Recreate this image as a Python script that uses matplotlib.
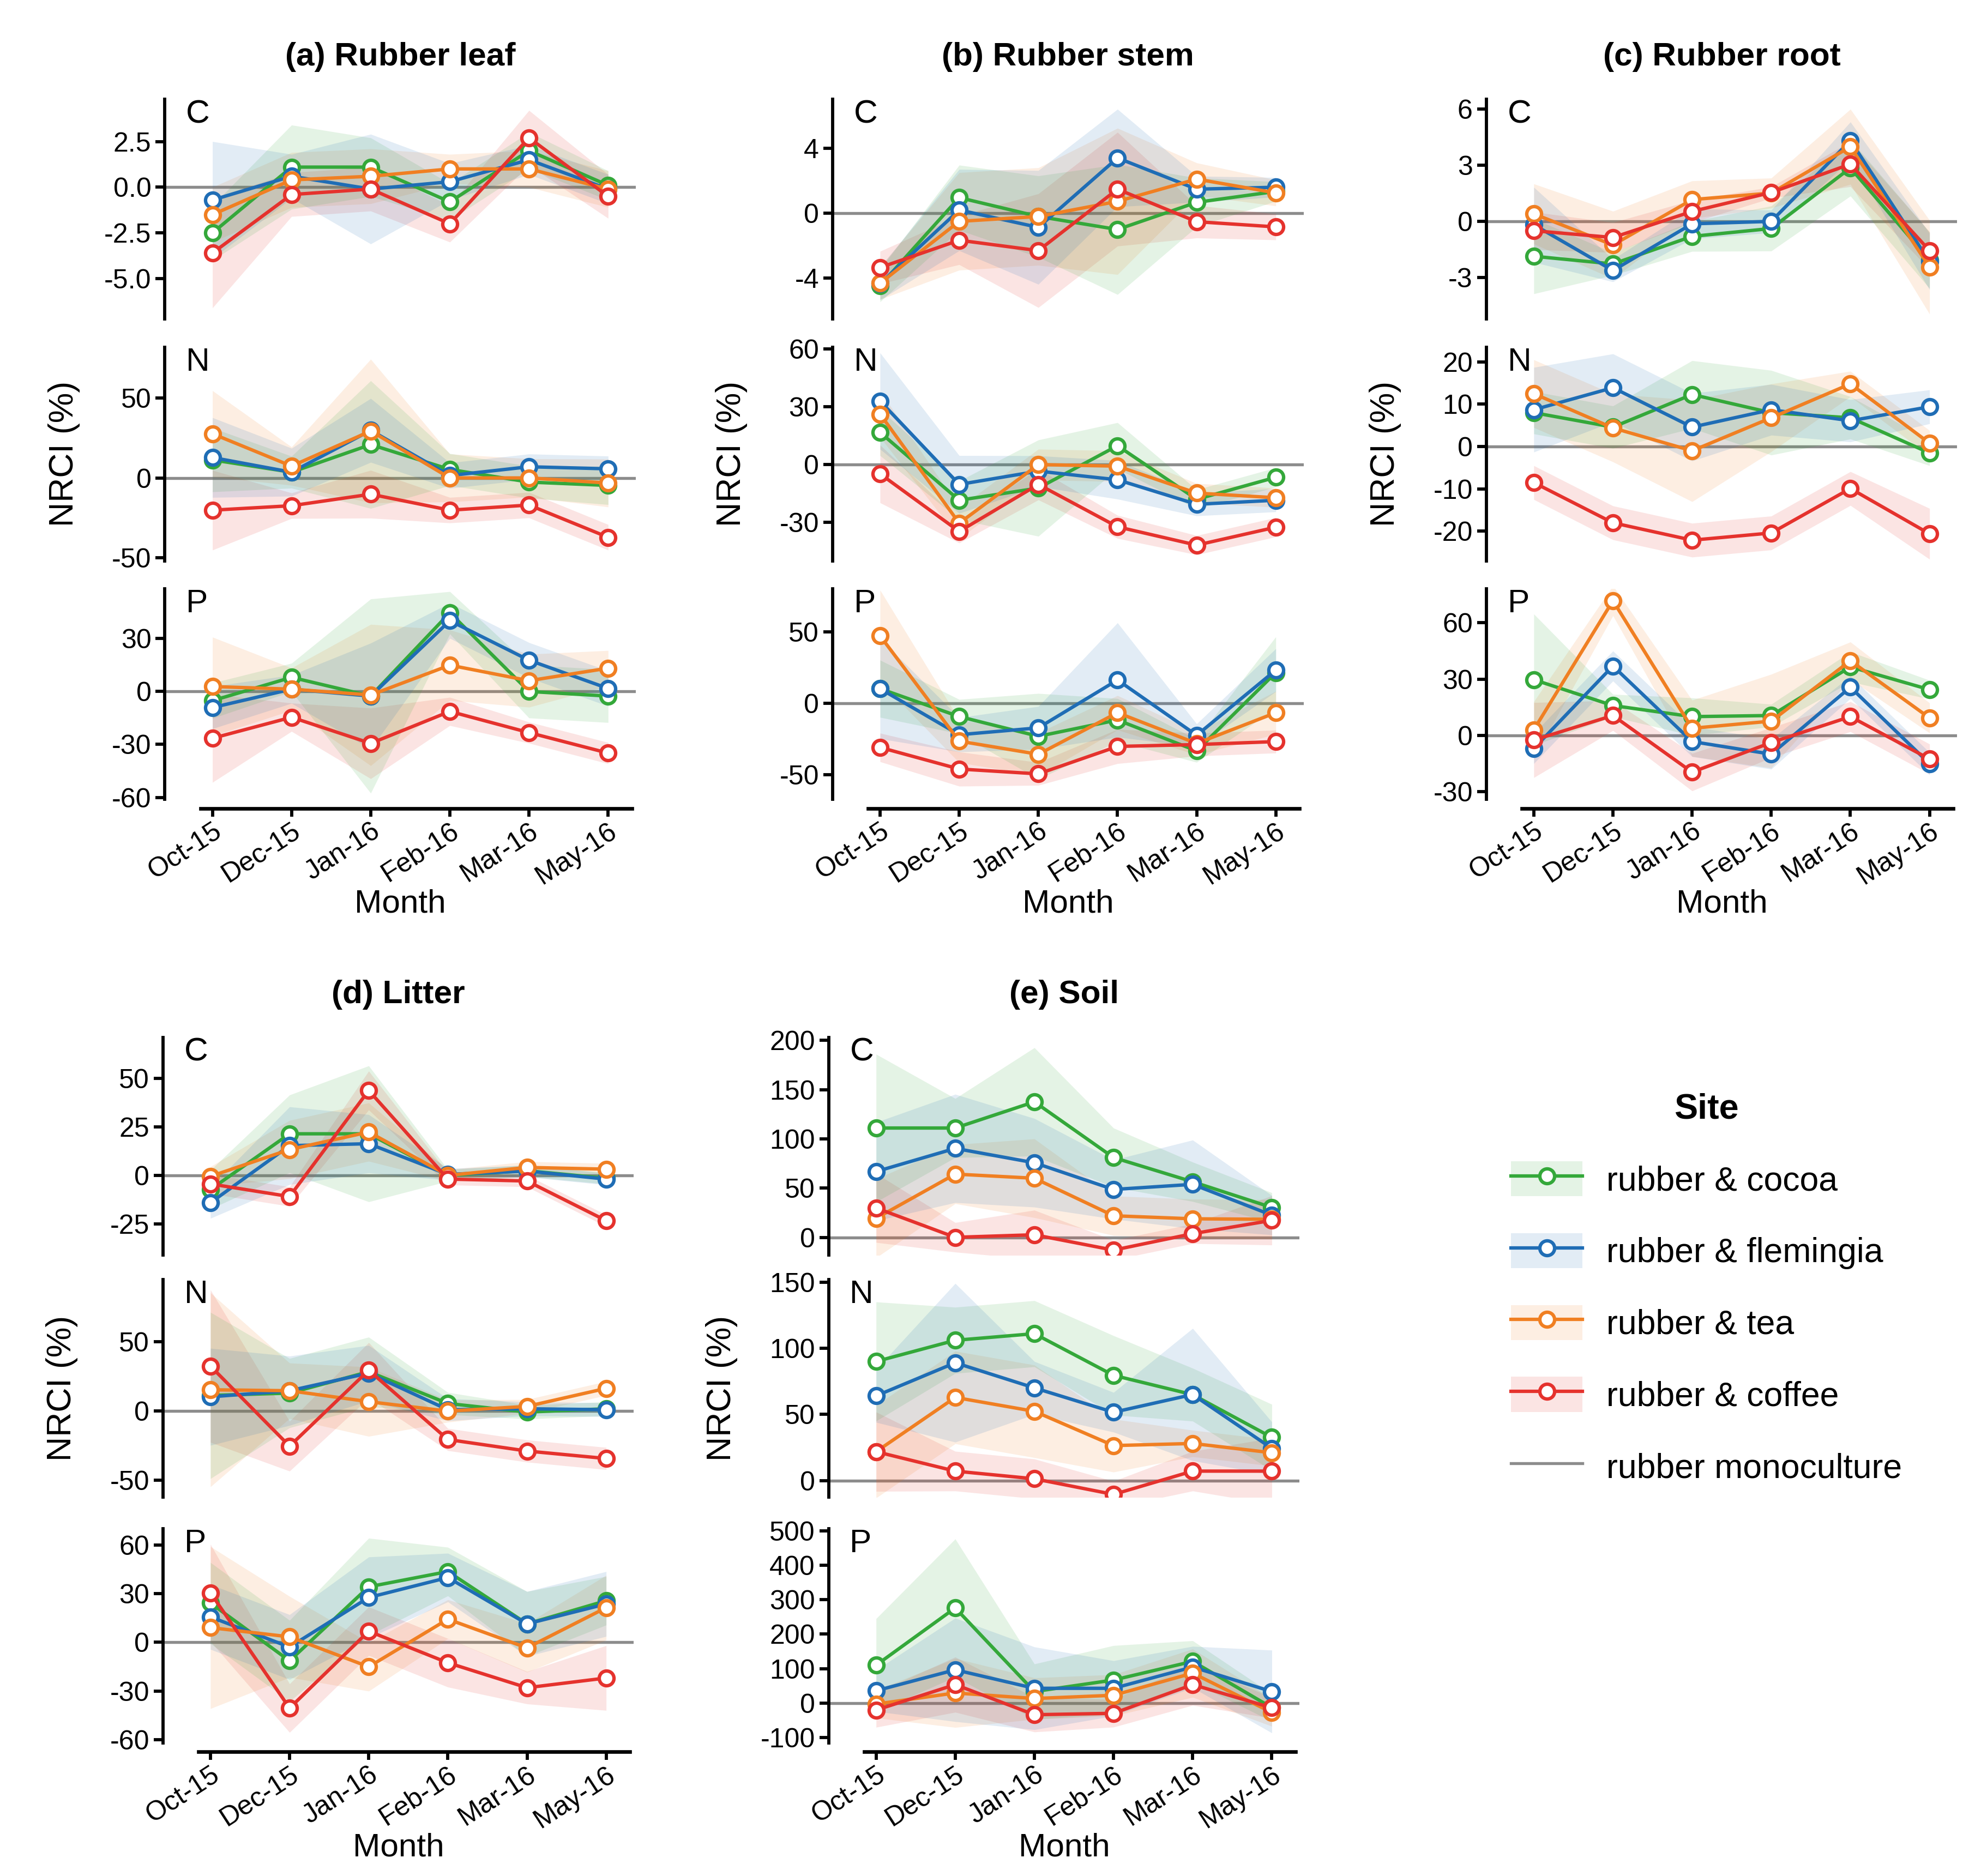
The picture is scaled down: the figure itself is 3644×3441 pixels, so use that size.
import numpy as np
import matplotlib
import matplotlib.pyplot as plt
from matplotlib.patches import Patch
from matplotlib.lines import Line2D
from matplotlib.ticker import FormatStrFormatter

plt.rcParams['font.family'] = ['Liberation Sans', 'DejaVu Sans']
plt.rcParams['axes.unicode_minus'] = False

#%% Data (rows: cocoa, flemingia, tea, coffee)

months = ['Oct-15', 'Dec-15', 'Jan-16', 'Feb-16', 'Mar-16', 'May-16']
sites = ['rubber & cocoa', 'rubber & flemingia', 'rubber & tea', 'rubber & coffee']
colors = ['#34a83a', '#1f6db5', '#f07f22', '#e5322d']

leaf_C = [[-2.5, 1.1, 1.1, -0.8, 2.0, 0.1],
          [-0.7, 0.6, -0.1, 0.3, 1.5, -0.1],
          [-1.5, 0.4, 0.6, 1.0, 1.0, -0.1],
          [-3.6, -0.4, -0.1, -2.0, 2.7, -0.5]]
leaf_C_err = [[1.5, 2.3, 1.6, 1.0, 1.0, 0.8],
              [3.2, 1.2, 3.0, 1.0, 0.8, 0.8],
              [1.5, 1.5, 1.5, 0.8, 1.0, 1.0],
              [3.0, 1.2, 1.2, 1.0, 1.5, 1.2]]
leaf_N = [[11.3, 3.6, 20.9, 5.3, -2.6, -4.7],
          [12.8, 3.6, 29.8, 1.5, 7.0, 5.7],
          [27.7, 7.4, 29.4, 0.0, 0.0, -3.2],
          [-20.2, -17.4, -10.2, -20.2, -17.0, -37.2]]
leaf_N_err = [[20, 10, 40, 10, 10, 12],
              [25, 15, 20, 8, 8, 8],
              [27, 12, 45, 15, 12, 15],
              [25, 8, 15, 8, 8, 8]]
leaf_P = [[-5.2, 8.0, -2.6, 44.6, 0.0, -2.6],
          [-9.1, 1.3, -2.6, 40.1, 17.7, 1.7],
          [2.8, 1.3, -2.0, 14.9, 6.1, 13.2],
          [-26.5, -14.6, -29.4, -11.3, -23.3, -34.9]]
leaf_P_err = [[10, 8, 55, 12, 15, 15],
              [12, 8, 30, 10, 10, 10],
              [28, 12, 40, 20, 15, 10],
              [25, 8, 20, 8, 6, 6]]

stem_C = [[-4.45, 0.96, -0.2, -1.0, 0.67, 1.34],
          [-4.33, 0.2, -0.87, 3.4, 1.48, 1.6],
          [-4.3, -0.5, -0.2, 0.73, 2.1, 1.25],
          [-3.34, -1.66, -2.3, 1.48, -0.52, -0.84]]
stem_C_err = [[1.0, 2.0, 2.5, 4.0, 1.5, 0.6],
              [1.0, 2.5, 3.5, 3.0, 0.8, 0.6],
              [1.0, 3.0, 3.0, 4.5, 1.0, 0.8],
              [1.0, 1.5, 3.5, 3.5, 1.0, 0.8]]
stem_N = [[16.7, -18.5, -12.2, 9.8, -18.0, -6.6],
          [33.0, -10.3, -3.4, -7.9, -20.6, -18.5],
          [26.2, -30.4, 0.0, -0.8, -14.8, -17.2],
          [-4.8, -34.7, -10.3, -32.3, -41.8, -32.5]]
stem_N_err = [[12, 10, 25, 12, 5, 5],
              [25, 15, 8, 10, 6, 6],
              [12, 8, 8, 8, 5, 5],
              [15, 6, 8, 6, 5, 5]]
stem_P = [[10.3, -9.2, -23.0, -11.6, -33.2, 21.6],
          [10.3, -21.9, -17.1, 16.4, -22.3, 23.3],
          [47.3, -26.4, -35.6, -6.5, -28.0, -6.5],
          [-30.8, -45.9, -49.3, -30.1, -28.8, -26.7]]
stem_P_err = [[20, 12, 30, 15, 8, 25],
              [35, 12, 15, 40, 8, 15],
              [32, 15, 15, 12, 8, 15],
              [10, 12, 8, 12, 8, 8]]

root_C = [[-1.86, -2.27, -0.8, -0.38, 2.85, -2.07],
          [-0.18, -2.62, -0.13, 0.0, 4.3, -2.14],
          [0.4, -1.26, 1.16, 1.51, 3.98, -2.44],
          [-0.5, -0.86, 0.53, 1.54, 3.05, -1.56]]
root_C_err = [[2.0, 0.6, 0.8, 1.2, 1.5, 1.5],
              [2.0, 0.6, 0.8, 0.6, 1.0, 1.5],
              [1.6, 1.8, 1.0, 0.8, 2.0, 2.5],
              [1.0, 0.8, 0.6, 0.3, 1.2, 1.0]]
root_N = [[8.0, 4.6, 12.3, 8.0, 6.8, -1.5],
          [8.7, 13.9, 4.6, 8.7, 6.1, 9.4],
          [12.5, 4.4, -1.0, 6.8, 14.8, 0.8],
          [-8.5, -18.0, -22.1, -20.4, -9.9, -20.6]]
root_N_err = [[5, 5, 8, 10, 5, 3],
              [10, 8, 8, 6, 5, 4],
              [8, 8, 12, 8, 3, 3],
              [4, 4, 4, 4, 4, 6]]
root_P = [[29.7, 15.9, 10.0, 10.6, 36.5, 24.4],
          [-7.0, 37.0, -3.3, -10.0, 25.7, -15.1],
          [3.0, 71.8, 3.8, 7.6, 39.8, 9.3],
          [-2.5, 10.6, -19.6, -3.8, 10.0, -12.6]]
root_P_err = [[35, 6, 10, 6, 8, 5],
              [8, 8, 8, 8, 6, 6],
              [15, 8, 15, 25, 10, 8],
              [20, 8, 10, 8, 8, 8]]

litter_C = [[-7.3, 21.4, 21.4, 0.0, 2.4, -1.5],
            [-14.1, 15.3, 16.3, 0.5, 2.2, -1.9],
            [-0.5, 13.3, 22.3, 0.0, 4.1, 3.2],
            [-4.4, -10.9, 43.7, -1.9, -2.9, -23.3]]
litter_C_err = [[10, 20, 35, 3, 3, 3],
                [8, 20, 15, 3, 3, 3],
                [5, 15, 15, 3, 3, 3],
                [5, 5, 10, 3, 3, 3]]
litter_N = [[11.3, 13.0, 28.4, 5.5, -0.7, 1.7],
            [10.3, 14.7, 27.4, 1.0, 1.7, 1.0],
            [15.4, 14.7, 6.8, 0.0, 3.4, 16.4],
            [32.5, -25.3, 29.5, -20.5, -28.8, -34.2]]
litter_N_err = [[60, 25, 25, 8, 5, 5],
                [35, 25, 20, 8, 5, 5],
                [70, 20, 25, 8, 5, 5],
                [55, 18, 20, 8, 8, 8]]
litter_P = [[24.3, -11.4, 34.3, 43.7, 11.4, 25.7],
            [15.7, -2.9, 27.7, 40.0, 11.4, 23.7],
            [9.1, 3.4, -15.1, 14.3, -3.4, 21.4],
            [30.6, -40.6, 6.9, -12.6, -28.0, -22.0]]
litter_P_err = [[25, 25, 30, 15, 20, 15],
                [20, 20, 25, 15, 20, 20],
                [50, 25, 15, 12, 15, 20],
                [30, 15, 15, 15, 10, 20]]

soil_C = [[111, 111, 137.6, 81, 56.4, 30.3],
          [66.8, 90.3, 75.7, 48.6, 53.8, 22.5],
          [19.3, 64.2, 60, 21.9, 18.8, 18.3],
          [29.8, 0, 2.6, -13, 3.7, 17.2]]
soil_C_err = [[75, 30, 55, 30, 20, 15],
              [50, 55, 45, 30, 45, 20],
              [40, 30, 40, 20, 20, 20],
              [35, 15, 25, 10, 10, 25]]
soil_N = [[90, 106, 111, 79.5, 64.9, 32.6],
          [64, 89, 70, 51.6, 65, 24.3],
          [21.8, 62.8, 52.3, 26.4, 28, 21],
          [21.8, 7.1, 1.3, -10.5, 7.1, 7.1]]
soil_N_err = [[45, 25, 25, 30, 20, 25],
              [20, 60, 20, 15, 50, 20],
              [35, 35, 35, 20, 10, 10],
              [30, 15, 15, 10, 15, 25]]
soil_P = [[110, 276, 33.6, 67, 121, -13],
          [36, 96.6, 43, 43, 104.7, 33.6],
          [-2.7, 29.5, 13.4, 22.8, 87, -27],
          [-20, 53.7, -33.6, -29.5, 53.7, -13.4]]
soil_P_err = [[135, 200, 80, 100, 60, 40],
              [60, 150, 120, 80, 60, 120],
              [40, 100, 60, 60, 70, 40],
              [50, 80, 50, 40, 60, 30]]

#%% Panel settings

rows_top = [(0.830, 0.117), (0.701, 0.114), (0.574, 0.112)]
rows_bot = [(0.331, 0.116), (0.202, 0.116), (0.071, 0.114)]
ax_w = 0.237

panels = [
    ('(a) Rubber leaf', 0.083, rows_top,
     [(leaf_C, leaf_C_err, (-7.2, 4.8), [2.5, 0, -2.5, -5], '%.1f'),
      (leaf_N, leaf_N_err, (-52, 82), [50, 0, -50], '%d'),
      (leaf_P, leaf_P_err, (-61, 58), [30, 0, -30, -60], '%d')]),
    ('(b) Rubber stem', 0.419, rows_top,
     [(stem_C, stem_C_err, (-6.5, 7.0), [4, 0, -4], '%d'),
      (stem_N, stem_N_err, (-50, 61), [60, 30, 0, -30], '%d'),
      (stem_P, stem_P_err, (-67, 80), [50, 0, -50], '%d')]),
    ('(c) Rubber root', 0.748, rows_top,
     [(root_C, root_C_err, (-5.2, 6.5), [6, 3, 0, -3], '%d'),
      (root_N, root_N_err, (-27, 23.5), [20, 10, 0, -10, -20], '%d'),
      (root_P, root_P_err, (-34, 78), [60, 30, 0, -30], '%d')]),
    ('(d) Litter', 0.082, rows_bot,
     [(litter_C, litter_C_err, (-41, 71), [50, 25, 0, -25], '%d'),
      (litter_N, litter_N_err, (-62, 95), [50, 0, -50], '%d'),
      (litter_P, litter_P_err, (-62, 70), [60, 30, 0, -30, -60], '%d')]),
    ('(e) Soil', 0.417, rows_bot,
     [(soil_C, soil_C_err, (-18, 203), [200, 150, 100, 50, 0], '%d'),
      (soil_N, soil_N_err, (-12.5, 152), [150, 100, 50, 0], '%d'),
      (soil_P, soil_P_err, (-115, 505), [500, 400, 300, 200, 100, 0, -100], '%d')]),
]

draw_order = [3, 2, 0, 1]

#%% Plot

fig = plt.figure(figsize=(12.147, 11.47), dpi=300)
x = np.arange(len(months))

for title, left, rows, elems in panels:
    for k, (vals, errs, ylim, yticks, fmt) in enumerate(elems):
        bottom, height = rows[k]
        ax = fig.add_axes([left, bottom, ax_w, height])
        ax.axhline(0, color='#8c8c8c', lw=1.3, zorder=1)
        for i in draw_order:
            v = np.array(vals[i], dtype=float)
            e = np.array(errs[i], dtype=float)
            ax.fill_between(x, v - e, v + e, color=colors[i], alpha=0.13,
                            lw=0, zorder=2)
        for i in draw_order:
            ax.plot(x, vals[i], color=colors[i], lw=1.5, marker='o', ms=6.5,
                    mfc='white', mec=colors[i], mew=1.5, zorder=3 + i)
        ax.set_xlim(-0.6, 5.35)
        ax.set_ylim(*ylim)
        ax.set_yticks(yticks)
        ax.yaxis.set_major_formatter(FormatStrFormatter(fmt))
        ax.spines['top'].set_visible(False)
        ax.spines['right'].set_visible(False)
        ax.spines['left'].set_linewidth(1.4)
        ax.tick_params(axis='y', labelsize=12, width=1.4, length=4, pad=2)
        ax.text(0.045, 1.0, 'CNP'[k], transform=ax.transAxes, va='top',
                ha='left', fontsize=14.5)
        if k == 0:
            ax.set_title(title, fontsize=14.5, fontweight='bold', pad=15)
        if k == 1:
            ax.set_ylabel('NRCI (%)', fontsize=15, labelpad=14)
        if k == 2:
            ax.spines['bottom'].set_position(('outward', 4))
            ax.spines['bottom'].set_bounds(-0.15, 5.3)
            ax.spines['bottom'].set_linewidth(1.6)
            ax.set_xticks(x)
            ax.set_xticklabels(months, rotation=33, ha='right',
                               rotation_mode='anchor', fontsize=12)
            ax.tick_params(axis='x', width=1.4, length=3.5, pad=1)
            ax.set_xlabel('Month', fontsize=14.5, labelpad=0)
        else:
            ax.spines['bottom'].set_visible(False)
            ax.set_xticks([])

#%% Legend

handles = []
for i in range(4):
    patch = Patch(facecolor=colors[i], alpha=0.13, edgecolor='none')
    line = Line2D([], [], color=colors[i], lw=1.5, marker='o', ms=6.5,
                  mfc='white', mec=colors[i], mew=1.5)
    handles.append((patch, line))
handles.append(Line2D([], [], color='#8c8c8c', lw=1.3))
labels = sites + ['rubber monoculture']

leg = fig.legend(handles, labels, loc='center left', bbox_to_anchor=(0.745, 0.313),
                 frameon=False, fontsize=15, title='Site',
                 title_fontproperties={'weight': 'bold', 'size': 15.5},
                 handlelength=2.1, handleheight=1.2, labelspacing=1.05,
                 handletextpad=0.7)

fig.savefig('out.png', dpi=300)
